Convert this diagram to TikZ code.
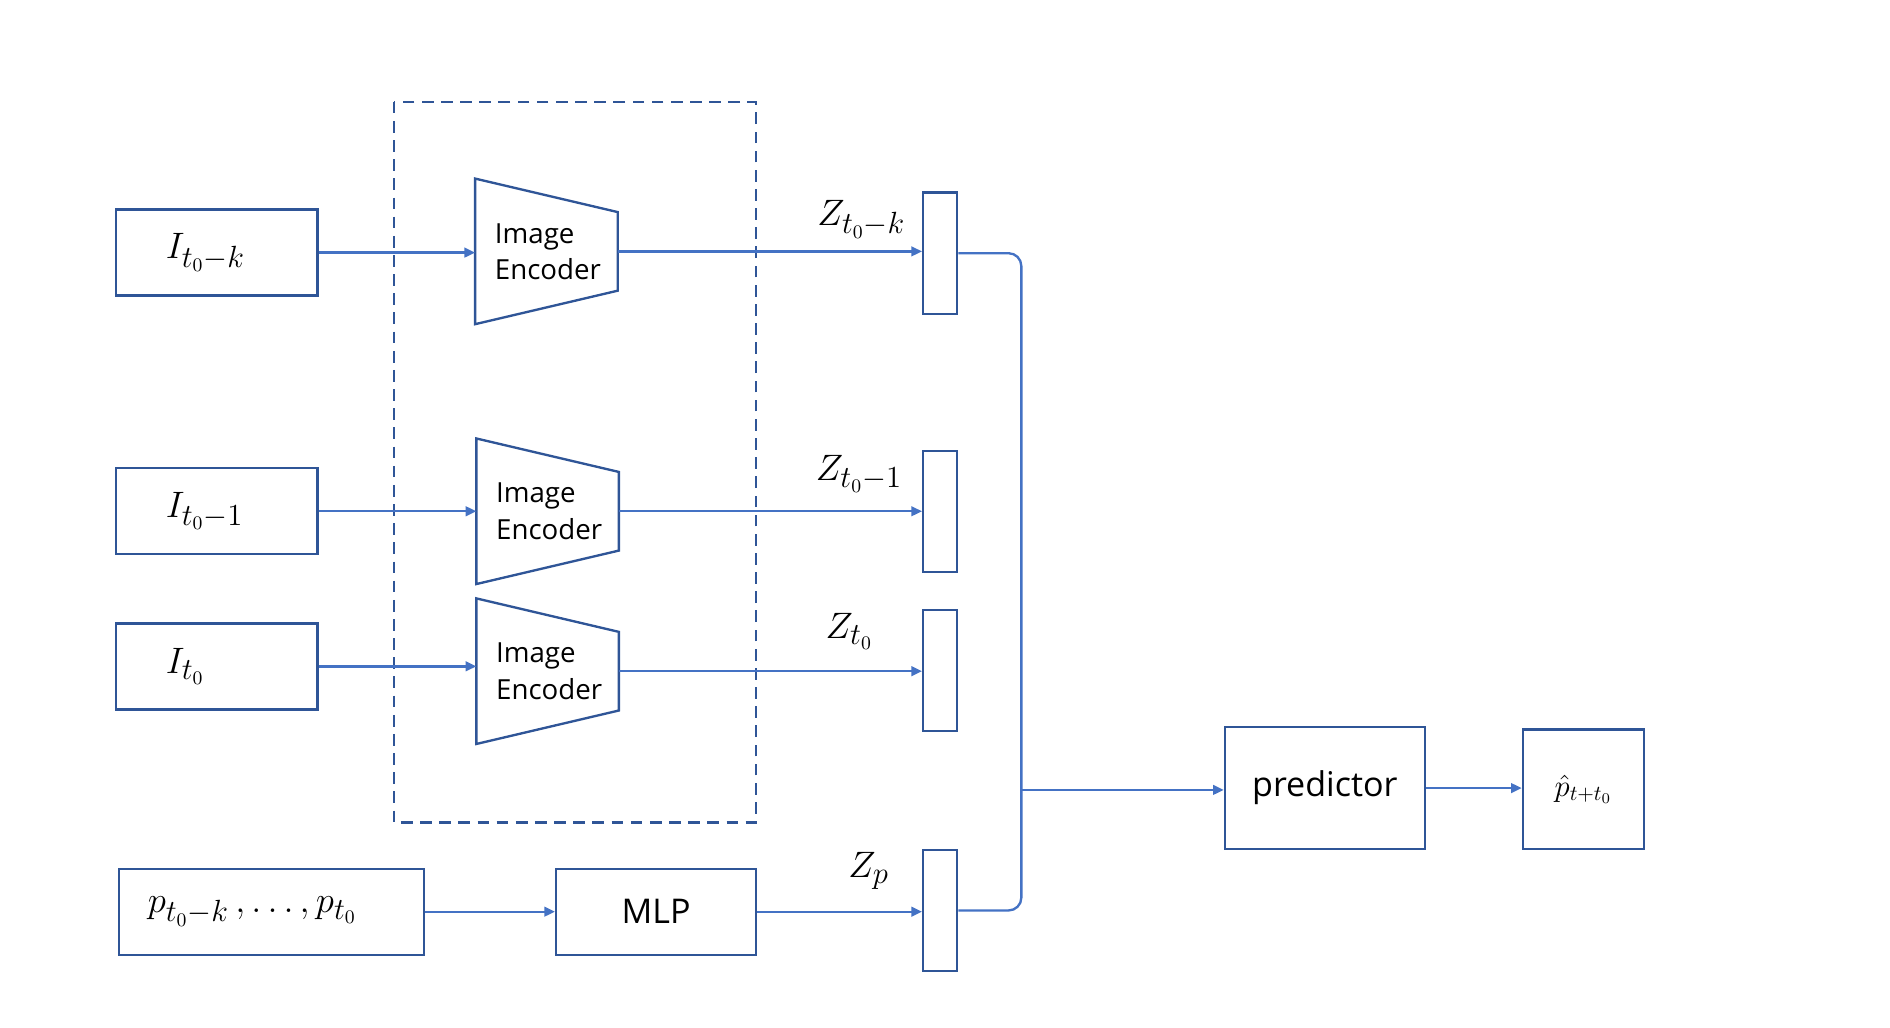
\documentclass[tikz,border=0pt]{standalone}
\usepackage{amsmath}
\usepackage{fontspec}
\setsansfont{Open Sans}
\usepackage{tikz}
\usetikzlibrary{calc}
\usetikzlibrary{positioning, arrows.meta, shapes}
\usepackage{xcolor}
\definecolor{boxblue}{RGB}{47,85,151}
\definecolor{lineblue}{RGB}{68,114,196}

\begin{document}
\begin{tikzpicture}[x=0.02cm, y=-0.02cm,
  box/.style={draw=boxblue, line width=1.1pt, rectangle, inner sep=0pt},
  inbox/.style={box, minimum width=3.32cm, minimum height=1.42cm, inner xsep=0.82cm,
    text width=1.68cm, align=left, font=\fontsize{19}{22}\selectfont},
  vecbox/.style={box, minimum width=0.56cm, minimum height=2cm},
  enctext/.style={rectangle, inner sep=0pt, inner xsep=0.32cm, text width=1.7cm,
    minimum width=2.34cm, minimum height=2.39cm,
    align=left, font=\sffamily\fontsize{13}{17}\selectfont},
  zlabel/.style={font=\fontsize{19}{22}\selectfont, inner sep=0pt},
  link/.style={draw=lineblue, line width=1.1pt},
  arrow/.style={link, -{Triangle[length=5pt, width=4.5pt]}}]
  \useasboundingbox (0,0) rectangle (1560,848.5);

  % Inputs
  \node[inbox] (imgk) at (179,208.5) {$I_{t_0-k}$};
  \node[inbox] (imgone) at (179,422) {$I_{t_0-1}$};
  \node[inbox] (imgzero) at (179,550) {$I_{t_0}$};
  \node[box, minimum width=5.04cm, minimum height=1.42cm, inner xsep=0.48cm,
    text width=4.08cm, align=left, font=\fontsize{19}{22}\selectfont]
    (poses) at (224,752.5) {$p_{t_0-k}\,,\ldots,p_{t_0}$};

  % Shared image encoders
  \draw[boxblue, line width=1.1pt, dash pattern=on 5.5pt off 3.5pt] (325,84) rectangle (624,679);
  \foreach \name/\x/\y in {enck/451/207.5, encone/452/422, enczero/452/554} {
    \node[enctext] (\name) at (\x,\y) {Image\\Encoder};
    \draw[boxblue, line width=1.1pt] (\name.north west)
      -- ($(\name.north east)!0.23!(\name.south east)$)
      -- ($(\name.north east)!0.77!(\name.south east)$)
      -- (\name.south west) -- cycle;
  }

  % MLP
  \node[box, minimum width=3.3cm, minimum height=1.42cm, font=\sffamily\fontsize{16}{19}\selectfont]
    (mlp) at (541.5,752.5) {MLP};

  % Latent vectors
  \node[vecbox] (zk) at (776,209) {};
  \node[vecbox] (zone) at (776,422) {};
  \node[vecbox] (zzero) at (776,553.5) {};
  \node[vecbox] (zp) at (776,751.5) {};
  \node[zlabel] (labk) at (711,181) {$Z_{t_0-k}$};
  \node[zlabel] (labone) at (709,391) {$Z_{t_0-1}$};
  \node[zlabel] (labzero) at (701,521) {$Z_{t_0}$};
  \node[zlabel] (labp) at (717,719) {$Z_p$};

  % Predictor and output
  \node[box, minimum width=3.3cm, minimum height=2.02cm, font=\sffamily\fontsize{16}{19}\selectfont]
    (pred) at (1093.5,650.5) {predictor};
  \node[box, minimum width=2cm, minimum height=1.98cm, font=\fontsize{14}{17}\selectfont]
    (out) at (1307,651.5) {$\hat{p}_{t+t_0}$};
  \coordinate (bus) at (843,652);

  % Relationships
  \draw[arrow] (imgk) -- (imgk -| enck.west);
  \draw[arrow] (imgone) -- (imgone -| encone.west);
  \draw[arrow] (imgzero) -- (imgzero -| enczero.west);
  \draw[arrow] (poses) -- (mlp);
  \draw[arrow] (enck.east) -- (enck.east -| zk.west);
  \draw[arrow] (encone.east) -- (encone.east -| zone.west);
  \draw[arrow] (enczero.east) -- (enczero.east -| zzero.west);
  \draw[arrow] (mlp) -- (mlp -| zp.west);
  \draw[link, rounded corners=6] (zk.east) -| (bus) |- (zp.east);
  \draw[arrow] (bus) -- (bus -| pred.west);
  \draw[arrow] (pred.east) -- (pred.east -| out.west);
\end{tikzpicture}
\end{document}
